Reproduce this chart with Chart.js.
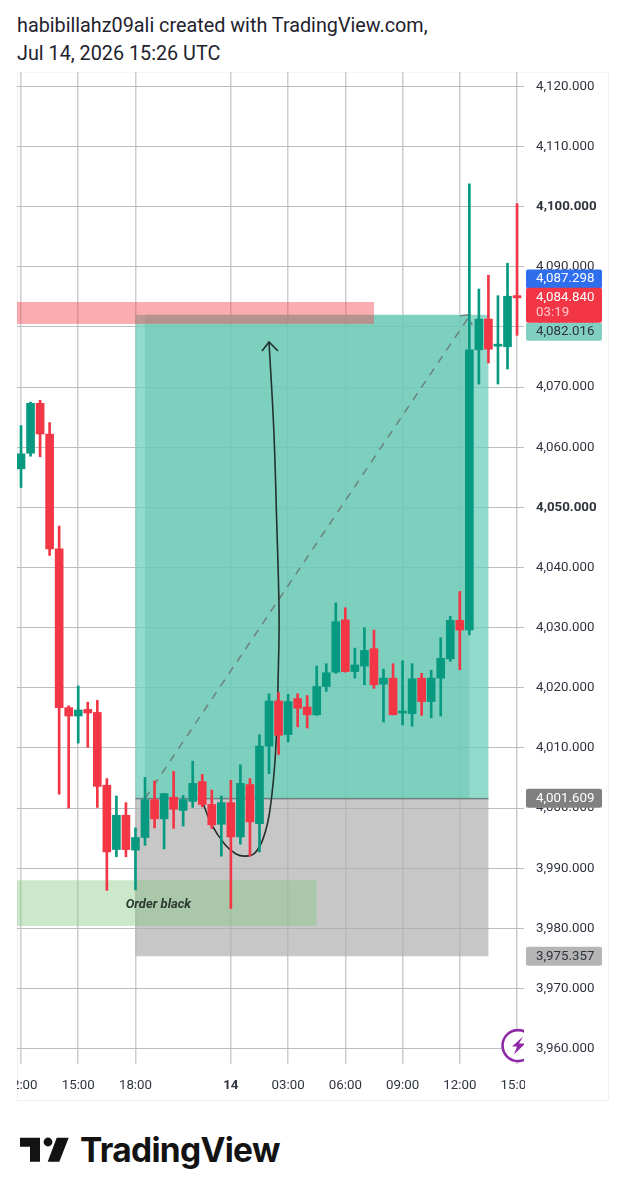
<!DOCTYPE html>
<html>
<head>
<meta charset="utf-8">
<title>Chart</title>
<script src="https://cdn.jsdelivr.net/npm/chart.js@4/dist/chart.umd.min.js"></script>
<style>
  html, body { margin: 0; padding: 0; background: #fff; }
  body { position: relative; width: 626px; height: 1200px; overflow: hidden; font-family: Roboto, sans-serif; }
  .title { position: absolute; left: 17px; top: 12px; font-size: 19.8px; line-height: 28px; color: #1e222d; }
  .frame { position: absolute; left: 17px; top: 72px; width: 592px; height: 1029px; border: 1px solid #efefef; border-top-color: #f6f6f6; box-sizing: border-box; }
  #chart { position: absolute; left: 17px; top: 72px; }
  .logo { position: absolute; left: 0; top: 1130px; }
  .brand { position: absolute; left: 80px; top: 1126px; font-family: Inter, sans-serif; font-weight: 700; font-size: 33.5px; line-height: 48px; letter-spacing: -0.7px; color: #131313; }
</style>
</head>
<body>
<div class="title">habibillahz09ali created with TradingView.com,<br>Jul 14, 2026 15:26 UTC</div>
<div class="frame"></div>
<canvas id="chart" width="591" height="1028"></canvas>
<svg class="logo" width="80" height="50" viewBox="0 0 80 50">
  <path d="M20 7.7H40V31.7H30V16.7H20Z M56.7 7.7H68.7L59.3 31.7H47.7Z" fill="#131313"/>
  <circle cx="48" cy="12" r="4.4" fill="#131313"/>
</svg>
<div class="brand">TradingView</div>

<script>
// 30 minute bars, index 0 is the 12:00 bar
const opens = [4056.4,4059.0,4067.3,4062.2,4043.1,4016.7,4015.3,4016.4,4015.9,4003.8,3993.1,3998.8,3993.0,3995.1,4001.4,3998.2,4001.8,3999.6,4001.1,4004.4,4000.6,3997.3,4000.9,3995.2,4003.9,3997.4,4010.3,4017.8,4012.2,4018.2,4016.8,4015.5,4020.2,4022.6,4031.3,4022.7,4023.6,4026.5,4020.6,4021.6,4015.8,4015.7,4021.6,4017.7,4021.6,4024.8,4031.2,4029.6,4076.2,4081.3,4076.8,4076.7,4085.2];
const highs = [4063.6,4067.5,4067.8,4064.1,4046.9,4017.0,4020.3,4017.6,4017.9,4004.9,4002.0,4000.9,3996.7,4005.1,4004.5,4002.4,4006.1,4002.1,4007.8,4005.6,4003.0,4002.0,4004.6,4007.2,4004.9,4012.2,4019.0,4019.2,4018.9,4019.0,4018.7,4023.6,4024.0,4034.1,4033.3,4026.6,4030.0,4029.6,4023.1,4024.0,4024.5,4024.0,4022.4,4022.9,4028.3,4031.9,4036.0,4103.8,4086.3,4088.6,4085.2,4090.6,4100.5];
const lows = [4053.3,4058.5,4058.4,4042.0,4002.3,4000.0,4010.8,4010.1,4000.1,3986.3,3991.9,3991.9,3986.4,3993.8,3996.7,3993.2,3996.6,3997.0,4000.1,4000.2,3996.6,3992.0,3983.3,3994.0,3992.0,3992.7,4005.7,4008.9,4011.0,4013.5,4013.3,4015.4,4019.4,4022.4,4022.6,4021.6,4020.5,4019.9,4014.3,4015.5,4013.8,4013.6,4015.4,4015.0,4015.3,4024.4,4023.0,4028.8,4070.5,4074.0,4070.5,4073.0,4078.6];
const closes = [4058.9,4067.3,4062.2,4043.1,4016.7,4015.3,4016.3,4015.8,4003.6,3992.7,3998.8,3993.1,3995.1,4001.4,3998.2,4002.4,3999.8,4001.4,4004.1,4000.6,3997.2,4000.9,3995.2,4004.1,3997.7,4010.3,4017.8,4012.1,4017.7,4016.6,4015.5,4020.2,4022.5,4031.0,4022.7,4023.8,4026.2,4020.5,4021.6,4015.5,4016.0,4021.5,4017.7,4021.6,4024.9,4031.2,4029.6,4076.2,4081.3,4076.3,4077.0,4085.1,4084.84];

const priceTicks = [4120,4110,4100,4090,4080,4070,4060,4050,4040,4030,4020,4010,4000,3990,3980,3970,3960];
const boldPrices = [4100,4050];
const timeIndex = [0,6,12,22,28,34,40,46,52];
const timeLabels = ['12:00','15:00','18:00','14','03:00','06:00','09:00','12:00','15:00'];

// position tool and zones, in bar index / price
const profitTop = 4082.016;
const entryPrice = 4001.609;
const stopPrice = 3975.357;
const toolStart = 12, toolEnd = 49, toolInnerStart = 13, toolInnerEnd = 47;
const supplyTop = 4084.15, supplyBottom = 4080.5, supplyEnd = 37;
const demandTop = 3988.0, demandBottom = 3980.4, demandEnd = 31;

// dashed trade line with its arrow tip
const tradeX = [13, 47.1, 45.8, 47.1, 47.27];
const tradeY = [4001.609, 4082.016, 4081.8, 4082.016, 4080.3];

// hand drawn curve and arrow head
const curveX = [19.08,20.0,21.4,22.5,23.5,24.5,25.4,26.1,26.7,27.0,27.05,26.8,26.5,26.0];
const curveY = [4000.8,3997.2,3993.9,3992.4,3992.0,3992.5,3995,3999.7,4009.7,4024.6,4032.9,4047.9,4062.9,4077.5];
const headX = [25.26, 26.0, 26.94];
const headY = [4076.0, 4077.5, 4076.0];

const GREEN = '#089981', RED = '#F23645', TEXT = '#2f333d';

const points = (xs, ys) => xs.map((x, i) => ({ x, y: ys[i] }));
const candleColor = closes.map((c, i) => c >= opens[i] ? GREEN : RED);
const fmt = v => v.toFixed(3).replace(/\B(?=(\d{3})+(?!\d))(?=.*\.)/g, ',');

function rect(ctx, sx, sy, x1, x2, y1, y2, color) {
  ctx.fillStyle = color;
  const top = sy.getPixelForValue(y1), bottom = sy.getPixelForValue(y2);
  const left = sx.getPixelForValue(x1), right = sx.getPixelForValue(x2);
  ctx.fillRect(left, top, right - left, bottom - top);
}

// zones sit above the grid and under the candles
const zones = {
  id: 'zones',
  beforeDatasetsDraw(chart) {
    const { ctx, scales: { x, y } } = chart;
    ctx.save();
    rect(ctx, x, y, toolStart, toolEnd, profitTop, entryPrice, 'rgba(110,205,185,0.75)');
    rect(ctx, x, y, toolInnerStart, toolInnerEnd, profitTop, entryPrice, 'rgba(105,198,178,0.5)');
    rect(ctx, x, y, toolStart, toolEnd, entryPrice, stopPrice, 'rgba(175,175,175,0.7)');
    ctx.fillStyle = 'rgba(90,110,110,0.8)';
    ctx.fillRect(x.getPixelForValue(toolStart), y.getPixelForValue(entryPrice) - 0.5, x.getPixelForValue(toolEnd) - x.getPixelForValue(toolStart), 1.5);
    rect(ctx, x, y, x.min, supplyEnd, supplyTop, supplyBottom, 'rgba(246,70,82,0.45)');
    rect(ctx, x, y, x.min, demandEnd, demandTop, demandBottom, 'rgba(130,200,130,0.42)');
    ctx.restore();
  }
};

// price tags, the order block label and the lightning badge
const overlay = {
  id: 'overlay',
  afterDraw(chart) {
    const { ctx, chartArea, scales: { x, y } } = chart;
    ctx.save();

    ctx.fillStyle = '#fff';
    ctx.fillRect(chartArea.right + 1, chartArea.bottom + 1, 40, 36);

    ctx.save();
    ctx.beginPath();
    ctx.rect(chartArea.left, chartArea.top, chartArea.right - chartArea.left, chartArea.bottom - chartArea.top);
    ctx.clip();
    const cx = x.getPixelForValue(52) + 1, cy = y.getPixelForValue(3960) - 3;
    ctx.fillStyle = '#fff';
    ctx.beginPath(); ctx.arc(cx, cy, 17, 0, Math.PI * 2); ctx.fill();
    ctx.strokeStyle = '#8E2AA8'; ctx.lineWidth = 2.6;
    ctx.beginPath(); ctx.arc(cx, cy, 15.5, 0, Math.PI * 2); ctx.stroke();
    ctx.fillStyle = '#8E2AA8';
    ctx.beginPath();
    ctx.moveTo(cx + 5, cy - 9); ctx.lineTo(cx - 6, cy + 1); ctx.lineTo(cx - 1, cy + 1);
    ctx.lineTo(cx - 4, cy + 9); ctx.lineTo(cx + 7, cy - 2); ctx.lineTo(cx + 1, cy - 2);
    ctx.closePath(); ctx.fill();
    ctx.restore();

    ctx.font = 'italic bold 13px Roboto';
    ctx.fillStyle = '#2b3a30';
    ctx.textAlign = 'center';
    ctx.textBaseline = 'middle';
    ctx.fillText('Order black', x.getPixelForValue(14.4), y.getPixelForValue(3983.9));

    const left = chartArea.right + 2, width = 76;
    const tag = (top, height, color, lines) => {
      ctx.fillStyle = color;
      ctx.beginPath();
      ctx.roundRect(left, top, width, height, 2);
      ctx.fill();
      ctx.textAlign = 'left';
      lines.forEach(l => {
        ctx.font = '13.3px Roboto';
        ctx.fillStyle = l.color;
        ctx.fillText(l.text, left + 10, l.y);
      });
    };
    const yGrey = y.getPixelForValue(stopPrice);
    const yEntry = y.getPixelForValue(entryPrice);
    const yBlue = y.getPixelForValue(4087.298) - 4;
    const yRed = y.getPixelForValue(4084.84);
    const yTeal = y.getPixelForValue(profitTop) + 17;
    tag(yTeal - 9, 18, '#7fd0c0', [{ text: fmt(profitTop), y: yTeal, color: TEXT }]);
    tag(yBlue - 9.5, 19, '#2f6fed', [{ text: fmt(4087.298), y: yBlue, color: '#fff' }]);
    tag(yRed - 10, 35, RED, [
      { text: fmt(4084.84), y: yRed, color: '#fff' },
      { text: '03:19', y: yRed + 15, color: '#fbc9ce' }
    ]);
    tag(yEntry - 9.5, 19, '#808080', [{ text: fmt(entryPrice), y: yEntry, color: '#fff' }]);
    tag(yGrey - 9.5, 19, '#b5b5b5', [{ text: fmt(stopPrice), y: yGrey, color: TEXT }]);
    ctx.restore();
  }
};

new Chart(document.getElementById('chart'), {
  data: {
    datasets: [
      {
        type: 'bar', order: 1, grouped: false, barThickness: 8, minBarLength: 2,
        data: opens.map((o, i) => ({ x: i, y: [o, closes[i]] })),
        backgroundColor: candleColor
      },
      {
        type: 'bar', order: 2, grouped: false, barThickness: 2,
        data: lows.map((l, i) => ({ x: i, y: [l, highs[i]] })),
        backgroundColor: candleColor
      },
      {
        type: 'line', order: 3, data: points(curveX, curveY), borderColor: '#23302e',
        borderWidth: 1.6, pointRadius: 0, tension: 0.4, fill: false
      },
      {
        type: 'line', order: 4, data: points(headX, headY), borderColor: '#23302e',
        borderWidth: 1.6, pointRadius: 0, tension: 0, fill: false
      },
      {
        type: 'line', order: 5, data: points(tradeX, tradeY), borderColor: 'rgba(105,115,115,0.85)',
        borderWidth: 1.5, borderDash: [8, 7], pointRadius: 0, tension: 0, fill: false
      }
    ]
  },
  options: {
    responsive: false,
    devicePixelRatio: 1,
    animation: false,
    layout: { padding: 0 },
    plugins: { legend: { display: false }, tooltip: { enabled: false } },
    scales: {
      x: {
        type: 'linear',
        offset: false,
        min: -0.42,
        max: 52.73,
        afterBuildTicks: s => { s.ticks = timeIndex.map(v => ({ value: v })); },
        afterFit: s => { s.paddingLeft = 0; s.paddingRight = 0; s.height = 36; },
        grid: { color: '#cdcdcd', lineWidth: 1.5, drawTicks: false, offset: false },
        border: { display: false },
        ticks: {
          autoSkip: false, maxRotation: 0, padding: 14, color: TEXT,
          font: c => ({ family: 'Roboto', size: 13.3, weight: c.tick && c.tick.value === 22 ? 'bold' : 'normal' }),
          callback: v => timeLabels[timeIndex.indexOf(v)]
        }
      },
      y: {
        position: 'right',
        min: 3957.44,
        max: 4122.39,
        afterBuildTicks: s => { s.ticks = priceTicks.map(v => ({ value: v })); },
        afterFit: s => { s.paddingTop = 0; s.paddingBottom = 0; s.width = 84; },
        grid: { color: '#bcbdc2', lineWidth: 1, drawTicks: false },
        border: { display: false },
        ticks: {
          autoSkip: false, padding: 12, color: TEXT, crossAlign: 'near',
          font: c => ({ family: 'Roboto', size: 13.3, weight: c.tick && boldPrices.includes(c.tick.value) ? 'bold' : 'normal' }),
          callback: v => fmt(v)
        }
      }
    }
  },
  plugins: [zones, overlay]
});
</script>
</body>
</html>
